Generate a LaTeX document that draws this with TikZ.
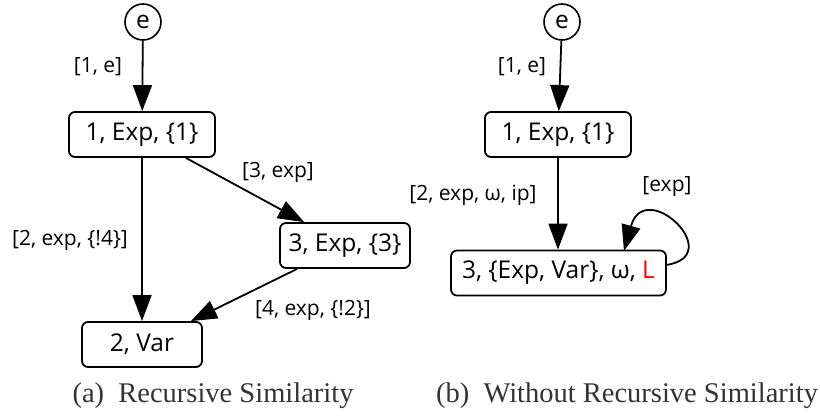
\documentclass[tikz,border=0pt]{standalone}
\usepackage{fontspec}
\setmainfont{Liberation Serif}
\newfontfamily\nodefont{Open Sans}
\usetikzlibrary{arrows.meta}
\definecolor{capgray}{HTML}{333333}
\begin{document}
\begin{tikzpicture}[x=1pt,y=-1pt,
  every node/.style={inner sep=0pt},
  box/.style={draw,line width=1.8pt,rounded corners=6pt,font=\nodefont\fontsize{24.5}{28}\selectfont,minimum height=45pt},
  startnode/.style={draw,line width=1.6pt,circle,minimum size=36pt,font=\nodefont\fontsize{24.5}{28}\selectfont},
  lbl/.style={font=\nodefont\fontsize{21}{24}\selectfont},
  arr/.style={line width=1.8pt,-{Triangle[length=26pt,width=19pt]}},
  captext/.style={font=\fontsize{28.5}{32}\selectfont,text=capgray}]
\useasboundingbox (0,0) rectangle (820,417);
% left panel
\node[startnode] (le) at (143,22) {e};
\node[box,minimum width=146pt] (l1) at (142,134.5) {1, Exp, \{1\}};
\node[box,minimum width=130pt] (l3) at (345,245.5) {3, Exp, \{3\}};
\node[box,minimum width=120pt] (l2) at (142,344.5) {2, Var};
\coordinate (l1s) at ([xshift=-30pt]l1.south east);
\coordinate (l3n) at ([xshift=25pt]l3.north west);
\coordinate (l3s) at ([xshift=18pt]l3.south west);
\coordinate (l2n) at ([xshift=-12pt]l2.north east);
\draw[arr] (le) -- (l1);
\draw[arr] (l1) -- (l2);
\draw[arr] (l1s) -- (l3n);
\draw[arr] (l3s) -- (l2n);
\node[lbl] (la) at (98,67) {[1, e]};
\node[lbl] (lb) at (278,172) {[3, exp]};
\node[lbl] (lc) at (70,240) {[2, exp, \{!4\}]};
\node[lbl] (ld) at (313,310) {[4, exp, \{!2\}]};
\node[captext] (capa) at (213,396) {(a)\ \ Recursive Similarity};
% right panel
\node[startnode] (re) at (562,22) {e};
\node[box,minimum width=146pt] (r1) at (558,134.5) {1, Exp, \{1\}};
\node[box,minimum width=215pt] (r3) at (558.5,273) {3, \{Exp, Var\}, ω, \textcolor{red}{L}};
\draw[arr] (re) -- (r1);
\draw[arr] (r1) -- (r3.north -| r1);
\coordinate (loopa) at (666,265);
\coordinate (loopb) at (624,251);
\draw[arr] (loopa) .. controls (728,256) and (645,176) .. (loopb);
\node[lbl] (ra) at (522,67) {[1, e]};
\node[lbl] (rb) at (473,195) {[2, exp, ω, ip]};
\node[lbl] (rc) at (667,187) {[exp]};
\node[captext] (capb) at (627,396) {(b)\ \ Without Recursive Similarity};
\end{tikzpicture}
\end{document}
